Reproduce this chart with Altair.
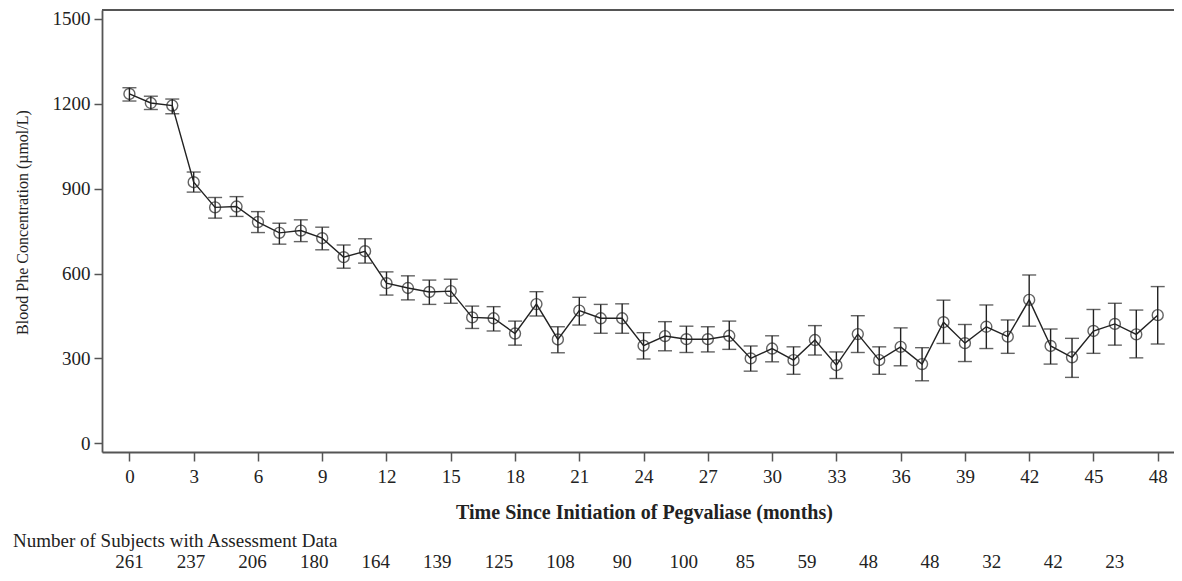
import altair as alt
import pandas as pd

months = list(range(49))
mean_phe = [1235, 1203, 1194, 923, 834, 837, 782, 744, 752, 725, 658, 679, 566, 549, 535, 538,
            445, 442, 388, 492, 367, 469, 442, 442, 345, 379, 368, 368, 380, 300, 335, 294,
            365, 276, 386, 294, 341, 280, 428, 354, 412, 377, 507, 344, 304, 397, 422, 385, 453]
upper_phe = [1257, 1227, 1217, 959, 869, 872, 819, 778, 790, 764, 701, 723, 606, 592, 577, 580,
             485, 483, 432, 536, 412, 516, 491, 493, 391, 430, 414, 412, 432, 344, 380, 341,
             416, 323, 451, 341, 408, 338, 506, 420, 489, 436, 595, 404, 371, 473, 495, 471, 554]
lower_phe = [1210, 1180, 1165, 888, 796, 802, 745, 704, 713, 684, 619, 637, 524, 507, 491, 495,
             406, 397, 347, 450, 320, 418, 389, 389, 298, 327, 321, 323, 332, 255, 288, 244,
             312, 229, 321, 244, 274, 221, 353, 289, 335, 318, 414, 280, 233, 318, 347, 302, 351]

subject_counts = ["261", "237", "206", "180", "164", "139", "125", "108", "90",
                  "100", "85", "59", "48", "48", "32", "42", "23"]
count_positions = [i * 2.875 for i in range(len(subject_counts))]

x_ticks = list(range(0, 49, 3))
y_ticks = [0, 300, 600, 900, 1200, 1500]

FONT = "Liberation Serif"
W, H = 1072, 442

df = pd.DataFrame({"month": months, "mean": mean_phe, "upper": upper_phe, "lower": lower_phe})
counts_df = pd.DataFrame({"pos": count_positions, "n": subject_counts})

xscale = alt.Scale(domain=[-1.28, 48.76], nice=False, zero=False)
yscale = alt.Scale(domain=[-30.8, 1531.8], nice=False, zero=False)

x_axis = alt.Axis(values=x_ticks, grid=False, tickSize=9, tickWidth=1.5, domainWidth=1.8,
                  domainColor="#555", tickColor="#555", labelFont=FONT, labelFontSize=19,
                  labelColor="#222", labelPadding=6, format="d",
                  title="Time Since Initiation of Pegvaliase (months)", titleFont=FONT,
                  titleFontSize=20, titleFontWeight="bold", titleColor="#222",
                  titleX=542, titleY=60, titleAlign="center", titleBaseline="middle",
                  titleAnchor="start")
y_axis = alt.Axis(values=y_ticks, grid=False, tickSize=8, tickWidth=1.5, domainWidth=1.8,
                  domainColor="#555", tickColor="#555", labelFont=FONT, labelFontSize=19,
                  labelColor="#222", labelPadding=4, format="d",
                  title="Blood Phe Concentration (\u00b5mol/L)", titleFont=FONT,
                  titleFontSize=16, titleFontWeight="normal", titleColor="#222",
                  titleX=-80, titleY=212, titleAngle=270, titleAlign="center",
                  titleBaseline="middle", titleAnchor="start")

base = alt.Chart(df)

bars = base.mark_rule(color="#222", strokeWidth=1.4).encode(
    x=alt.X("month:Q", scale=xscale, axis=x_axis),
    y=alt.Y("lower:Q", scale=yscale, axis=y_axis),
    y2="upper:Q",
)
cap_hi = base.mark_tick(color="#222", orient="horizontal", size=14, thickness=1.4).encode(
    x="month:Q", y="upper:Q")
cap_lo = base.mark_tick(color="#222", orient="horizontal", size=14, thickness=1.4).encode(
    x="month:Q", y="lower:Q")
line = base.mark_line(color="#222", strokeWidth=1.4).encode(x="month:Q", y="mean:Q")
pts = base.mark_point(shape="circle", filled=False, size=120, color="#222",
                      strokeWidth=1.4).encode(x="month:Q", y="mean:Q")

top_border = alt.Chart(pd.DataFrame({"a": [0]})).mark_rule(color="#555", strokeWidth=1.8).encode(
    x=alt.value(0), x2=alt.value(W), y=alt.value(0))

count_text = alt.Chart(counts_df).mark_text(font=FONT, fontSize=19, color="#222",
                                            baseline="middle", align="center").encode(
    x=alt.X("pos:Q", scale=xscale), y=alt.value(552), text="n:N")

label_text = alt.Chart(pd.DataFrame({"t": ["Number of Subjects with Assessment Data"]})).mark_text(
    font=FONT, fontSize=19, color="#222", baseline="middle", align="left").encode(
    x=alt.value(-89), y=alt.value(531), text="t:N")

chart = alt.layer(top_border, bars, cap_hi, cap_lo, line, pts, count_text, label_text).properties(
    width=W, height=H,
    autosize=alt.AutoSizeParams(type="none"),
    padding={"left": 94, "top": 2, "right": 0, "bottom": 121},
).configure_view(stroke=None).configure(font=FONT, background="white")

chart.save("out.html", embed_options={"renderer": "svg", "actions": False})
